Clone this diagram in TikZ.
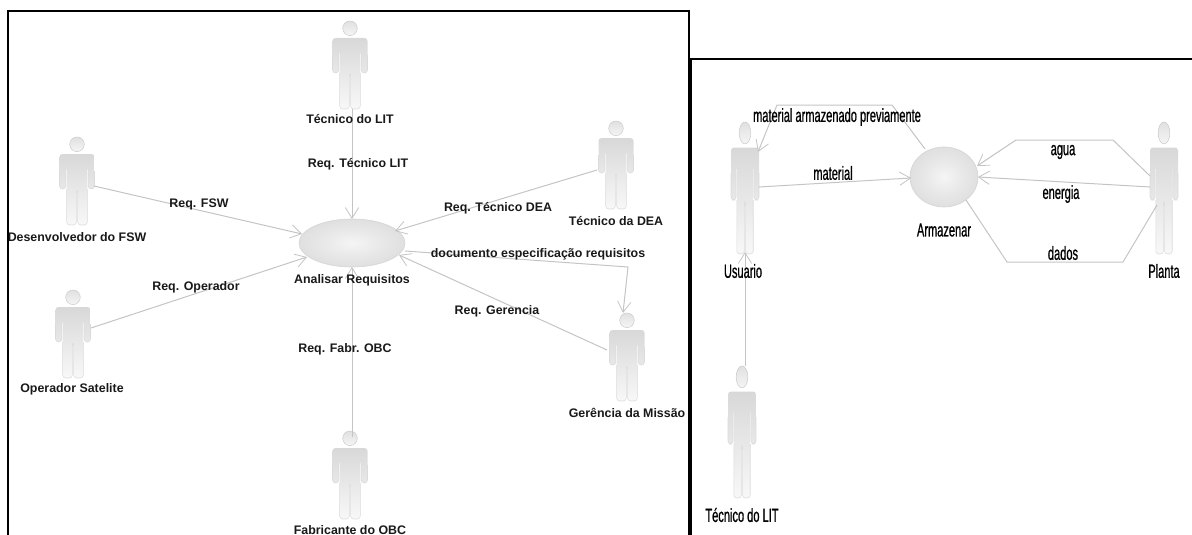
\documentclass[tikz,border=0pt]{standalone}
\usepackage{fontspec}
\setmainfont{Liberation Sans}
\newfontfamily\narrowfont[FakeStretch=0.58,FakeBold=0.7]{Liberation Sans}
\usetikzlibrary{arrows.meta,shapes.geometric}
\definecolor{edgegrey}{HTML}{C4C4C4}
\definecolor{bodytop}{HTML}{D8D8D8}
\definecolor{bodybot}{HTML}{F8F8F8}
\pgfdeclareradialshading{usecaseshade}{\pgfpoint{0bp}{0bp}}{%
  color(0bp)=(white!96!black); color(14bp)=(white!91!black); color(50bp)=(white!80!black); color(100bp)=(white!80!black)}
\tikzset{
  frameline/.style={black,line width=1.5pt},
  conn/.style={edgegrey,line width=0.75pt},
  arr/.style={conn,-{Straight Barb[length=8pt,width=10pt,line width=0.6pt]}},
  lefttext/.style={font=\bfseries\fontsize{9.3pt}{10pt}\selectfont,text=black!90,inner sep=0pt},
  righttext/.style={font=\narrowfont\fontsize{14.3pt}{16pt}\selectfont,text=black,inner sep=0pt},
  usecase/.style={ellipse,draw=black!16,line width=0.5pt,shading=usecaseshade,inner sep=0pt},
  actorbox/.style={inner sep=0pt,rectangle,draw=none},
  actorfill/.style={top color=bodytop,bottom color=bodybot,draw=none},
  actorline/.style={draw=black!14,line width=0.4pt},
  headfill/.style={top color=white!88!black,bottom color=white!96!black,draw=black!20,line width=0.4pt}
}
\newcommand{\actorfig}[5]{%
  \node[actorbox,minimum width=#4*26.25pt,minimum height=#5*66pt] (#1) at (#2,#3) {};
  \begin{scope}[shift={(#2,#3)},xscale=#4,yscale=#5]
    \path[headfill] (0,-36.7) circle [radius=7.3];
    \path[actorfill,rounded corners=2.25pt]
      (-17.5,8)--(-17.5,-27)--(17.5,-27)--(17.5,8)--(11.2,8)--(11.2,-14)--(-11.2,-14)--(-11.2,8)--cycle
      (-10.3,-20)--(10.3,-20)--(10.3,12)--(-10.3,12)--cycle
      (-10.3,5)--(-0.7,5)--(-0.7,44)--(-10.3,44)--cycle
      (0.7,5)--(10.3,5)--(10.3,44)--(0.7,44)--cycle;
    \draw[actorline,rounded corners=2.25pt]
      (-10.3,8)--(-10.3,44)--(-0.7,44)--(-0.7,9)
      (10.3,8)--(10.3,44)--(0.7,44)--(0.7,9);
    \draw[actorline,rounded corners=2.25pt]
      (-17.5,-10)--(-17.5,8)--(-11.2,8)--(-11.2,-12)
      (17.5,-10)--(17.5,8)--(11.2,8)--(11.2,-12);
  \end{scope}
}
\begin{document}
\begin{tikzpicture}[x=0.75pt,y=-0.75pt]
\useasboundingbox (0,0) rectangle (1192,535);
% left diagram
\actorfig{tecl}{350}{65}{1}{1}
\actorfig{desv}{77}{181}{1}{1}
\actorfig{oper}{73}{334}{1}{1}
\actorfig{fabr}{350}{475}{1}{1}
\actorfig{tecd}{616}{165}{1}{1}
\actorfig{gere}{627}{357}{1}{1}
\node[usecase,minimum width=79.5pt,minimum height=36pt] (ana) at (352,243) {};
\coordinate (docbend) at (628,267);
\draw[arr] ([shift={(2,44)}]tecl.center) -- ([shift={(0,-24)}]ana.center);
\draw[arr] ([shift={(17,5)}]desv.center) -- ([shift={(-50,-9)}]ana.center);
\draw[arr] ([shift={(18,-6)}]oper.center) -- ([shift={(-45,14)}]ana.center);
\draw[arr] ([shift={(2,-38)}]fabr.center) -- ([shift={(0,24)}]ana.center);
\draw[arr] ([shift={(-19,5)}]tecd.center) -- ([shift={(43,-12)}]ana.center);
\draw[arr] ([shift={(-20,-7)}]gere.center) -- ([shift={(47,12)}]ana.center);
\draw[arr] ([shift={(53,8)}]ana.center) -- (docbend) -- ([shift={(-4,-44)}]gere.center);
\node[lefttext] (ltecl) at (350,119) {Técnico do LIT};
\node[lefttext] (ldesv) at (77,237) {Desenvolvedor do FSW};
\node[lefttext] (loper) at (72,389) {Operador Satelite};
\node[lefttext] (lfabr) at (350,530) {Fabricante do OBC};
\node[lefttext] (ltecd) at (616,221) {Técnico da DEA};
\node[lefttext] (lgere) at (627,413) {Gerência da Missão};
\node[lefttext] (lana) at (352,280) {Analisar Requisitos};
\node[lefttext] (e1) at (358,164) {Req. Técnico LIT};
\node[lefttext] (e2) at (199,204) {Req. FSW};
\node[lefttext] (e3) at (196,287) {Req. Operador};
\node[lefttext] (e4) at (345,349) {Req. Fabr. OBC};
\node[lefttext] (e5) at (498,208) {Req. Técnico DEA};
\node[lefttext] (e6) at (538,254) {documento especificação requisitos};
\node[lefttext] (e7) at (497,311) {Req. Gerencia};
\draw[frameline] (8,535) -- (8,11) -- (689,11) -- (689,535);
% right diagram
\actorfig{usu}{745}{188}{0.8}{1.5}
\actorfig{pla}{1164}{188}{0.8}{1.5}
\actorfig{tlit}{742}{432}{0.8}{1.5}
\node[usecase,minimum width=51pt,minimum height=45pt] (arm) at (944,177) {};
\coordinate (m1) at (892,105);
\coordinate (m2) at (777,105);
\coordinate (a1) at (1113,140);
\coordinate (a2) at (1016,140);
\coordinate (d1) at (1007,262);
\coordinate (d2) at (1123,262);
\draw[arr] ([shift={(-19,-28)}]arm.center) -- (m1) -- (m2) -- ([shift={(13,-36)}]usu.center);
\draw[arr] ([shift={(14,-1)}]usu.center) -- ([shift={(-33,1)}]arm.center);
\draw[arr] ([shift={(-14,-12)}]pla.center) -- (a1) -- (a2) -- ([shift={(33,-11)}]arm.center);
\draw[arr] ([shift={(-14,-1)}]pla.center) -- ([shift={(34,0)}]arm.center);
\draw[conn] ([shift={(22,23)}]arm.center) -- (d1) -- (d2) -- ([shift={(-7,17)}]pla.center);
\draw[arr] ([shift={(3,-66)}]tlit.center) -- ([shift={(0,64)}]usu.center);
\node[righttext] (r1) at (837,117) {material armazenado previamente};
\node[righttext] (r2) at (833,173) {material};
\node[righttext] (r3) at (1063,152) {agua};
\node[righttext] (r4) at (1061,194) {energia};
\node[righttext] (r5) at (1063,253) {dados};
\node[righttext] (r6) at (944,230) {Armazenar};
\node[righttext] (r7) at (743,271) {Usuario};
\node[righttext] (r8) at (1164,271) {Planta};
\node[righttext] (r9) at (742,515) {Técnico do LIT};
\draw[frameline] (691,535) -- (691,59) -- (1192,59);
\end{tikzpicture}
\end{document}
